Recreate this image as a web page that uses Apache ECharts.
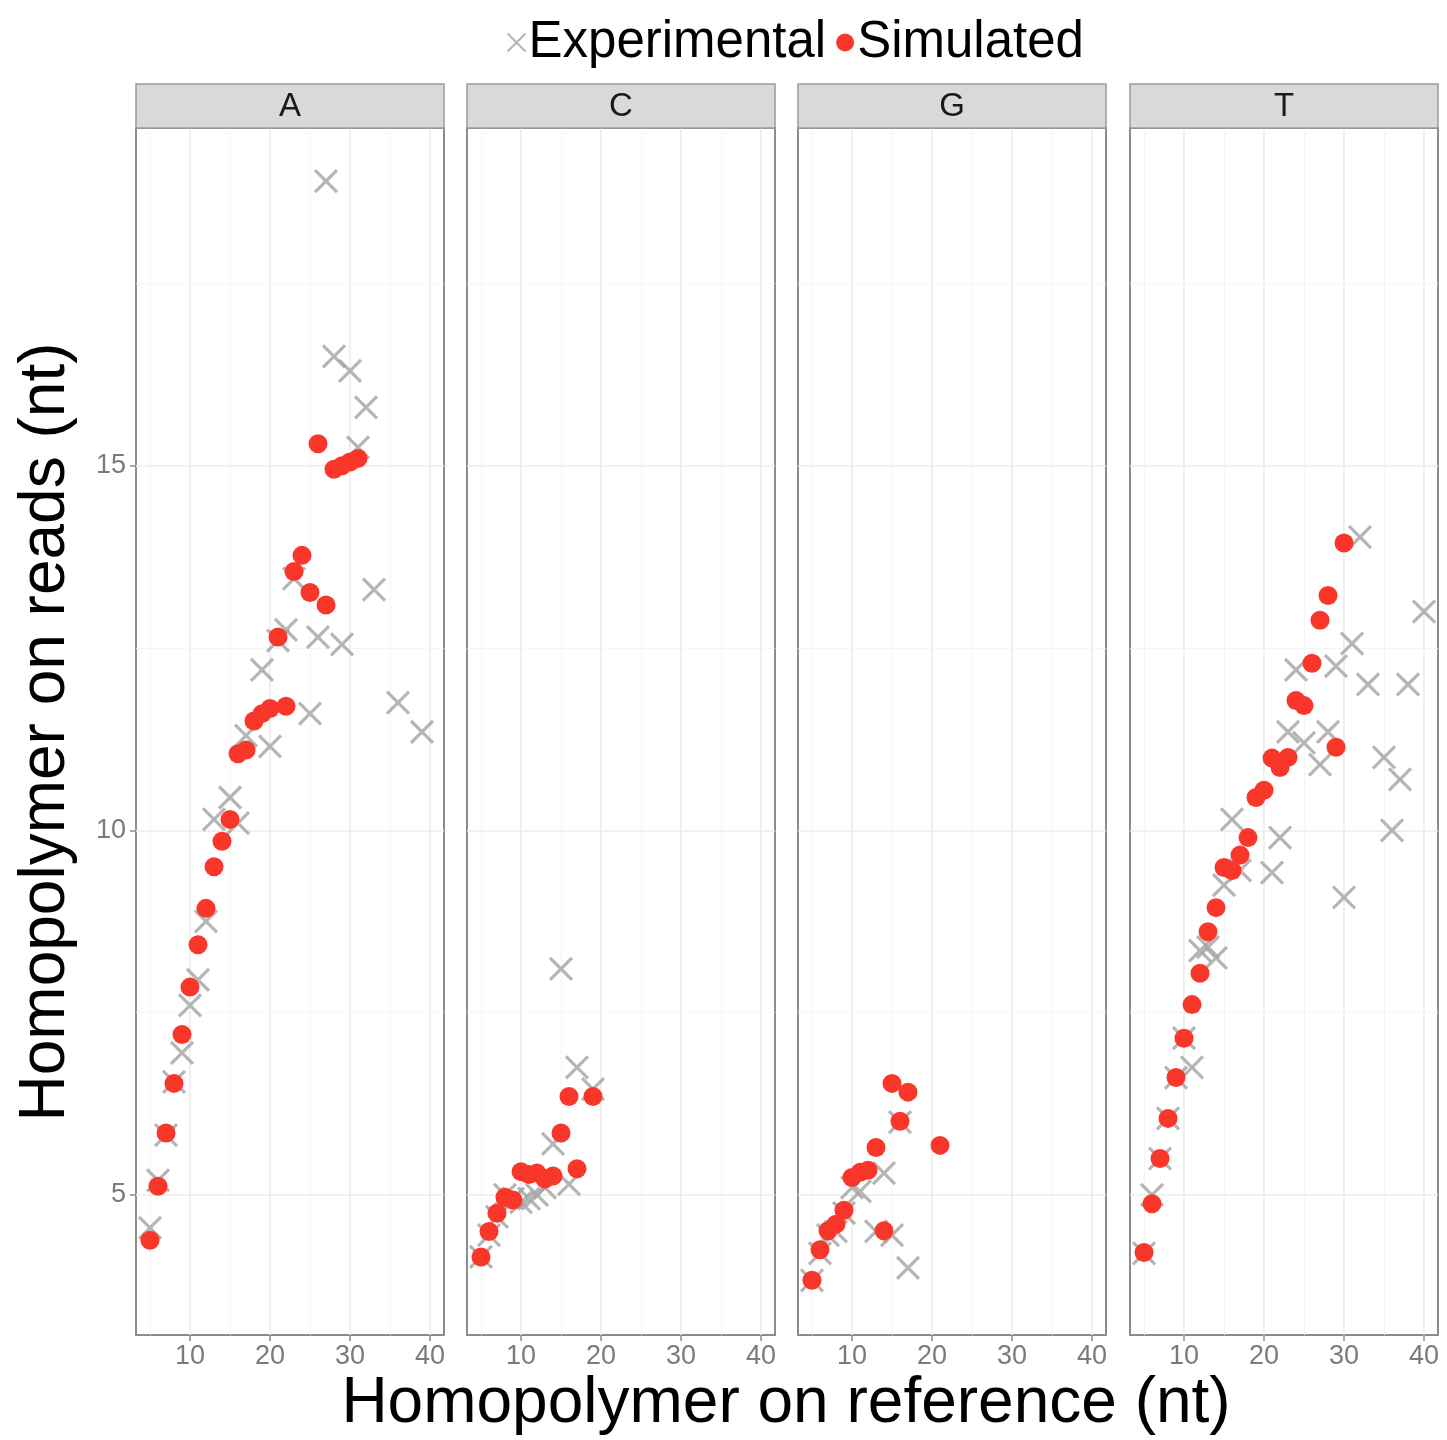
<!DOCTYPE html>
<html>
<head>
<meta charset="utf-8">
<script src="https://cdn.jsdelivr.net/npm/echarts@6/dist/echarts.min.js"></script>
<style>
html,body{margin:0;padding:0;background:#fff;}
#chart{width:1447px;height:1440px;}
</style>
</head>
<body>
<div id="chart"></div>
<script>
// ---- data ----
const panels = ['A', 'C', 'G', 'T'];
const xTicks = [10, 20, 30, 40];
const yTicks = [5, 10, 15];
const xMinor = [5, 15, 25, 35];
const yMinor = [7.5, 12.5, 17.5];

const expA = [[5,4.55],[6,5.2],[7,5.82],[8,6.55],[9,6.95],[10,7.6],[11,7.95],[12,8.75],[13,10.15],[15,10.45],[16,10.1],[17,11.3],[19,12.2],[20,11.15],[21,12.6],[22,12.75],[23,13.45],[25,11.6],[26,12.65],[27,18.9],[28,16.5],[29,12.55],[30,16.3],[31,15.25],[32,15.8],[33,13.3],[36,11.75],[39,11.35]];
const simA = [[5,4.38],[6,5.12],[7,5.85],[8,6.53],[9,7.2],[10,7.85],[11,8.43],[12,8.93],[13,9.5],[14,9.85],[15,10.15],[16,11.05],[17,11.1],[18,11.5],[19,11.6],[20,11.67],[21,12.65],[22,11.7],[23,13.55],[24,13.77],[25,13.26],[26,15.3],[27,13.09],[28,14.95],[29,15.0],[30,15.05],[31,15.1]];

const expC = [[5,4.15],[6,4.45],[7,4.7],[8,5.0],[9,4.95],[10,4.9],[11,4.95],[12,5.0],[13,5.1],[14,5.7],[15,8.1],[16,5.15],[17,6.75],[19,6.45]];
const simC = [[5,4.15],[6,4.5],[7,4.75],[8,4.97],[9,4.93],[10,5.32],[11,5.28],[12,5.3],[13,5.22],[14,5.26],[15,5.85],[16,6.35],[17,5.36],[19,6.35]];

const expG = [[5,3.83],[6,4.2],[7,4.45],[8,4.5],[9,4.75],[10,5.1],[11,5.05],[13,4.5],[14,5.3],[15,4.45],[16,6.0],[17,4.0]];
const simG = [[5,3.83],[6,4.25],[7,4.51],[8,4.6],[9,4.79],[10,5.24],[11,5.31],[12,5.34],[13,5.65],[14,4.51],[15,6.53],[16,6.01],[17,6.41],[21,5.68]];

const expT = [[5,4.2],[6,5.0],[7,5.5],[8,6.05],[9,6.61],[10,7.15],[11,6.75],[12,8.35],[13,8.4],[14,8.25],[15,9.25],[16,10.15],[17,9.45],[21,9.42],[22,9.9],[23,11.35],[24,12.2],[25,11.2],[27,10.9],[28,11.35],[29,12.25],[30,9.08],[31,12.56],[32,14.02],[33,12.0],[35,11.0],[36,10.0],[37,10.7],[38,12.0],[40,13.0]];
const simT = [[5,4.21],[6,4.88],[7,5.5],[8,6.05],[9,6.61],[10,7.15],[11,7.61],[12,8.04],[13,8.61],[14,8.94],[15,9.49],[16,9.45],[17,9.66],[18,9.9],[19,10.45],[20,10.55],[21,10.99],[22,10.86],[23,11.0],[24,11.78],[25,11.71],[26,12.29],[27,12.88],[28,13.22],[29,11.14],[30,13.94]];

const expData = [expA, expC, expG, expT];
const simData = [simA, simC, simG, simT];

// ---- layout / style ----
const gridLefts = [136, 467, 798, 1130];
const gridW = 308, gridTop = 128, gridH = 1207;
const stripTop = 84, stripH = 44;
const FONT = '"Liberation Sans", Arial, Helvetica, sans-serif';
const grayX = '#a3a3a3';
const red = '#f8372a';
const crossPath = 'path://M0,0L10,10M10,0L0,10';

const grids = [], xAxes = [], yAxes = [], series = [], graphics = [];

panels.forEach((p, i) => {
  grids.push({
    left: gridLefts[i], top: gridTop, width: gridW, height: gridH,
    show: true, borderColor: '#8c8c8c', borderWidth: 2, backgroundColor: '#fff'
  });
  xAxes.push({
    type: 'value', gridIndex: i, min: 3.25, max: 41.75,
    axisLine: { show: false },
    axisTick: { show: true, customValues: xTicks, length: 6, lineStyle: { color: '#8c8c8c', width: 1.5 } },
    axisLabel: { show: true, customValues: xTicks, fontSize: 27, color: '#7a7a7a', fontFamily: FONT, margin: 8 },
    splitLine: { show: false }
  });
  yAxes.push({
    type: 'value', gridIndex: i, min: 3.08, max: 19.63,
    axisLine: { show: false },
    axisTick: { show: i === 0, customValues: yTicks, length: 6, lineStyle: { color: '#8c8c8c', width: 1.5 } },
    axisLabel: { show: i === 0, customValues: yTicks, fontSize: 27, color: '#7a7a7a', fontFamily: FONT, margin: 10 },
    splitLine: { show: false }
  });

  const ml = [];
  xTicks.forEach(v => ml.push({ xAxis: v, lineStyle: { color: '#ececec', width: 1.6, type: 'solid' } }));
  xMinor.forEach(v => ml.push({ xAxis: v, lineStyle: { color: '#f4f4f4', width: 0.9, type: 'solid' } }));
  yTicks.forEach(v => ml.push({ yAxis: v, lineStyle: { color: '#ececec', width: 1.6, type: 'solid' } }));
  yMinor.forEach(v => ml.push({ yAxis: v, lineStyle: { color: '#f4f4f4', width: 0.9, type: 'solid' } }));

  series.push({
    name: 'Experimental', type: 'scatter', xAxisIndex: i, yAxisIndex: i,
    data: expData[i], symbol: crossPath, symbolSize: 22, z: 2,
    itemStyle: { color: 'none', borderColor: grayX, borderWidth: 3.2 },
    markLine: { silent: true, symbol: ['none', 'none'], label: { show: false }, z: 1, animation: false, data: ml },
    animation: false
  });
  series.push({
    name: 'Simulated', type: 'scatter', xAxisIndex: i, yAxisIndex: i,
    data: simData[i], symbol: 'circle', symbolSize: 19, z: 3,
    itemStyle: { color: red, opacity: 1 },
    animation: false
  });

  graphics.push({
    type: 'rect', shape: { x: gridLefts[i], y: stripTop, width: gridW, height: stripH },
    style: { fill: '#d9d9d9', stroke: '#9a9a9a', lineWidth: 1.5 }, z: 10
  });
  graphics.push({
    type: 'text', x: gridLefts[i] + gridW / 2, y: stripTop + stripH / 2 + 1,
    style: { text: p, font: '33px ' + FONT, fill: '#1a1a1a', textAlign: 'center', textVerticalAlign: 'middle' }, z: 11
  });
});

graphics.push({
  type: 'text', x: 786, y: 1404,
  style: { text: 'Homopolymer on reference (nt)', font: '64px ' + FONT, fill: '#000', textAlign: 'center', textVerticalAlign: 'middle' }
});
graphics.push({
  type: 'text', x: 46, y: 732, rotation: Math.PI / 2,
  style: { text: 'Homopolymer on reads (nt)', font: '64px ' + FONT, fill: '#000', textAlign: 'center', textVerticalAlign: 'middle' }
});

const chart = echarts.init(document.getElementById('chart'), null, { renderer: 'canvas' });
chart.setOption({
  animation: false,
  backgroundColor: '#fff',
  legend: {
    top: 12, left: 500, itemGap: 10, itemWidth: 18, itemHeight: 18,
    textStyle: { fontSize: 51, color: '#000', fontFamily: FONT, padding: [0, 0, 0, -2] },
    data: [{ name: 'Experimental', icon: crossPath }, { name: 'Simulated', icon: 'circle' }]
  },
  grid: grids,
  xAxis: xAxes,
  yAxis: yAxes,
  series: series,
  graphic: graphics
});
</script>
</body>
</html>
